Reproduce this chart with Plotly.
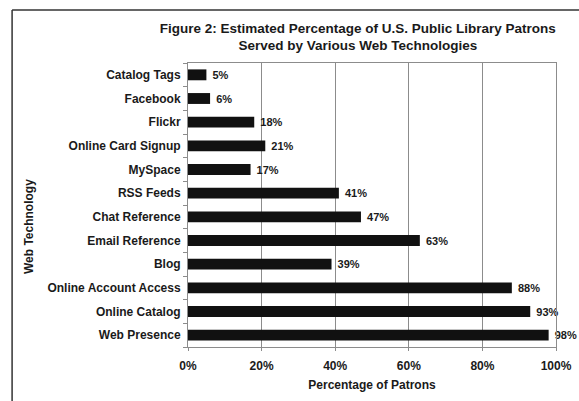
import plotly.graph_objects as go

# Web technologies, listed top to bottom as displayed
technologies = [
    "Catalog Tags", "Facebook", "Flickr", "Online Card Signup", "MySpace",
    "RSS Feeds", "Chat Reference", "Email Reference", "Blog",
    "Online Account Access", "Online Catalog", "Web Presence",
]
# Estimated percentage of patrons served
percent_served = [5, 6, 18, 21, 17, 41, 47, 63, 39, 88, 93, 98]

x_ticks = [0, 20, 40, 60, 80, 100]
x_tick_labels = ["0%", "20%", "40%", "60%", "80%", "100%"]

FONT = "Liberation Sans, Arial, sans-serif"
INK = "#1a1a1a"

fig = go.Figure(
    go.Bar(
        x=percent_served,
        y=technologies,
        orientation="h",
        marker=dict(color="#111111", line=dict(width=0)),
        # a non-breaking space keeps a little gap between bar end and label
        text=[f"\u00a0<b>{v}%</b>" for v in percent_served],
        textposition="outside",
        constraintext="none",
        cliponaxis=False,
        textfont=dict(family=FONT, size=11, color=INK),
    )
)

fig.update_layout(
    width=579,
    height=401,
    margin=dict(l=188, r=23, t=63, b=54, autoexpand=False),
    paper_bgcolor="white",
    plot_bgcolor="white",
    bargap=0.54,
    showlegend=False,
    font=dict(family=FONT, size=12, color=INK),
    title=dict(
        text="<b>Figure 2: Estimated Percentage of U.S. Public Library Patrons<br>"
             "Served by Various Web Technologies</b>",
        xref="container", x=0.618, xanchor="center",
        yref="container", y=0.918, yanchor="middle",
        font=dict(family=FONT, size=13.5, color=INK),
    ),
    xaxis=dict(
        range=[0, 100],
        automargin=False,
        tickvals=x_ticks,
        ticktext=[f"<b>{t}</b>" for t in x_tick_labels],
        showgrid=True, gridcolor="#8c8c8c", gridwidth=1,
        showline=True, linecolor="#8c8c8c", linewidth=1, mirror=True,
        ticks="outside", ticklen=3, tickcolor="#8c8c8c",
        ticklabelstandoff=5,
        zeroline=False,
        tickfont=dict(family=FONT, size=12, color=INK),
        title=dict(text="<b>Percentage of Patrons</b>", standoff=8,
                   font=dict(family=FONT, size=12, color=INK)),
    ),
    yaxis=dict(
        categoryorder="array",
        categoryarray=technologies,
        autorange="reversed",
        automargin=False,
        tickvals=technologies,
        ticktext=[f"<b>{t}</b>" for t in technologies],
        showline=True, linecolor="#8c8c8c", linewidth=1, mirror=True,
        ticks="outside", ticklen=4, tickcolor="#8c8c8c", tickson="boundaries",
        ticklabelstandoff=4,
        showgrid=False,
        tickfont=dict(family=FONT, size=12, color=INK),
    ),
    annotations=[
        dict(
            text="<b>Web Technology</b>",
            xref="paper", yref="paper", x=-0.432, y=0.4225,
            xanchor="center", yanchor="middle", textangle=-90,
            showarrow=False, font=dict(family=FONT, size=12, color=INK),
        )
    ],
    shapes=[
        # frame drawn around the figure (left and top edges)
        dict(type="line", xref="paper", yref="paper",
             x0=-0.478, x1=-0.478, y0=1.187, y1=-0.25,
             line=dict(color="#333333", width=1.5)),
        dict(type="line", xref="paper", yref="paper",
             x0=-0.478, x1=1.1, y0=1.187, y1=1.187,
             line=dict(color="#333333", width=1.5)),
    ],
)

fig.write_html("out.html")
